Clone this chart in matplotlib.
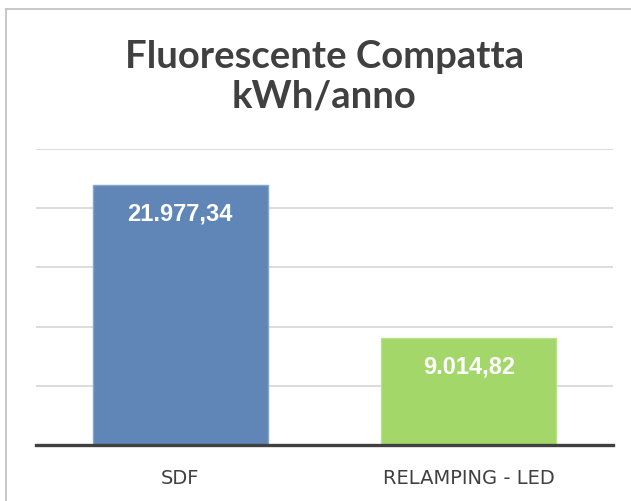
import numpy as np
import matplotlib.pyplot as plt
from matplotlib.lines import Line2D
from matplotlib import font_manager

# dati
categorie = ['SDF', 'RELAMPING - LED']
valori = [21977.34, 9014.82]
etichette = ['21.977,34', '9.014,82']
colori = ['#5f86b7', '#a3d76a']
bordi = ['#86a6cc', '#b9e28f']

# Liberation Sans bold (non Narrow) per le etichette dei valori
fp_val = font_manager.FontProperties(family='Liberation Sans', weight='bold', size=17)
for f in font_manager.fontManager.ttflist:
    if f.name == 'Liberation Sans' and f.weight == 700 and f.style == 'normal' and 'Narrow' not in f.fname:
        fp_val = font_manager.FontProperties(fname=f.fname, size=17)
        break

fig = plt.figure(figsize=(6.31, 5.02), dpi=100)
ax = fig.add_axes([36/631, 56/502, 577/631, 296/502])

x = np.arange(len(categorie))
bars = ax.bar(x, valori, width=0.607, color=colori, edgecolor=bordi, linewidth=1, zorder=2)

# valori dentro le barre
for b, t in zip(bars, etichette):
    ax.annotate(t, (b.get_x() + b.get_width()/2, b.get_height()),
                xytext=(0, -20), textcoords='offset points',
                ha='center', va='center', color='white',
                fontproperties=fp_val, zorder=3)

ax.set_xlim(-0.5, 1.5)
ax.set_ylim(0, 25000)
ax.set_yticks(np.arange(0, 25001, 5000))
ax.yaxis.grid(True, color='#d9d9d9', linewidth=1.3, zorder=0)
ax.set_axisbelow(True)
ax.tick_params(axis='y', left=False, labelleft=False)
ax.tick_params(axis='x', bottom=False, pad=13, labelsize=14, labelcolor='#404040')
ax.set_xticks(x)
ax.set_xticklabels(categorie, family='DejaVu Sans')
for s in ['top', 'right', 'left']:
    ax.spines[s].set_visible(False)
ax.spines['bottom'].set_color('#404040')
ax.spines['bottom'].set_linewidth(2.4)
ax.spines['bottom'].set_zorder(4)

# titolo
fig.text(324.5/631, 1 - 77/502, 'Fluorescente Compatta\nkWh/anno', ha='center', va='center',
         fontsize=27.5, fontweight='bold', color='#404040', family='Lato', linespacing=1.18)

# cornice del grafico
fig.add_artist(Line2D([6/631, 6/631], [0, 1 - 9.5/502], color='#c4c4c4', linewidth=1.3))
fig.add_artist(Line2D([6/631, 1], [1 - 9.5/502, 1 - 9.5/502], color='#c4c4c4', linewidth=1.3))

fig.savefig('out.png', dpi=100)
